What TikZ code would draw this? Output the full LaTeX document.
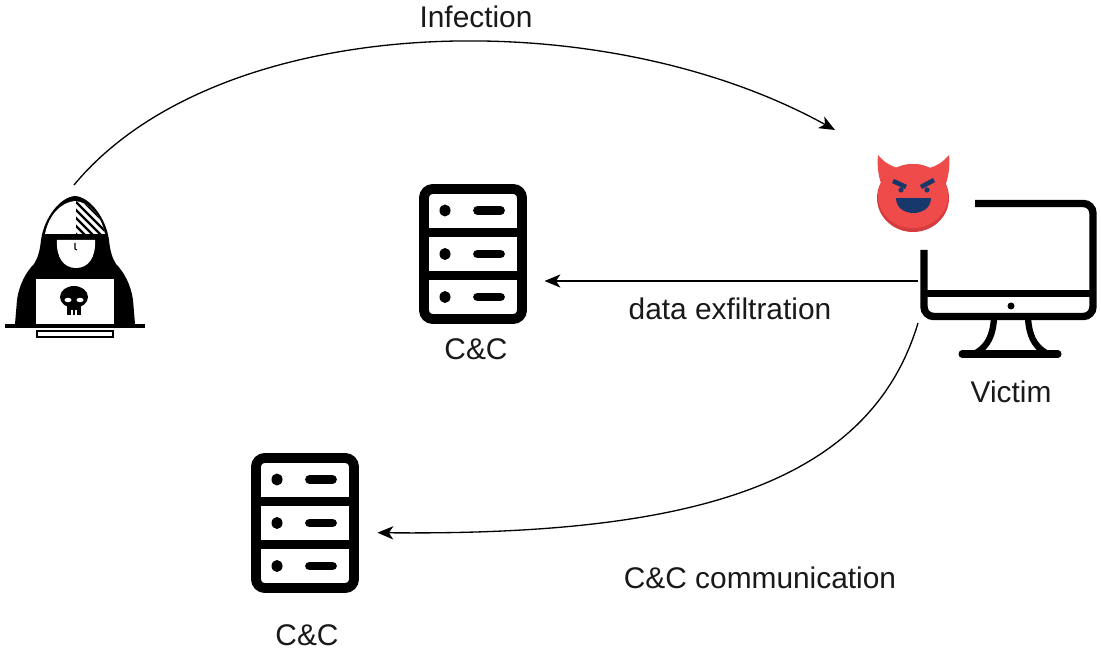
\documentclass[tikz,border=0pt]{standalone}
\usepackage{fontspec}
\setmainfont{Liberation Sans}
\usetikzlibrary{arrows.meta,shapes.geometric}
\definecolor{impred}{HTML}{EF4B4B}
\definecolor{impshade}{HTML}{D63B3D}
\definecolor{impnavy}{HTML}{17386A}

\tikzset{
  lbl/.style={anchor=base, font=\fontsize{17}{20}\selectfont, text=black!90},
  flow/.style={line width=0.75pt, -{Stealth[length=9pt,width=7.5pt,inset=2.5pt]}},
  iconbox/.style={inner sep=0pt, outer sep=0pt},
  rack/.style={line width=5.6pt},
  screen/.style={line width=4.2pt},
  server/.pic={
    \draw[rack, rounded corners=5pt] (-49,-65) rectangle (49,65);
    \draw[rack] (-49,-21.5) -- (49,-21.5) (-49,21.5) -- (49,21.5);
    \foreach \row in {-43.5,0,43} {
      \fill (-28,\row) ellipse (5.5 and 6);
      \draw[line width=5pt, line cap=round] (4.5,\row) -- (27.5,\row);
    }
  }
}

\begin{document}
\begin{tikzpicture}[x=0.02cm, y=-0.02cm]
  \useasboundingbox (0,0) rectangle (1101,651);

  \coordinate (H) at (74,261);
  \coordinate (S1) at (473,254);
  \coordinate (S2) at (305,523);
  \coordinate (V) at (1008,281);
  \coordinate (D) at (913,198);
  \coordinate (tip) at (835,130);

  \coordinate (Inf) at (476,28);
  \coordinate (Exf) at (730,320);
  \coordinate (Com) at (760,588);
  \coordinate (Vl) at (1011,402);
  \coordinate (S1l) at (476,360);
  \coordinate (S2l) at (307,645);

  \node[iconbox, minimum width=2.8cm, minimum height=3.04cm] (hacker) at (H) {};
  \node[iconbox, minimum width=2.16cm, minimum height=2.84cm] (cc1) at (S1) {};
  \node[iconbox, minimum width=2.16cm, minimum height=2.84cm] (cc2) at (S2) {};
  \node[iconbox, minimum width=3.6cm, minimum height=3.32cm] (victim) at (V) {};

  % servers
  \pic at (cc1) {server};
  \pic at (cc2) {server};

  % hooded figure behind the laptop
  \fill (15,324) -- (17,300) .. controls (19,285) and (26,272) .. (34,264)
        .. controls (38,258) and (40,250) .. (41,240)
        .. controls (44,218) and (60,197) .. (75,196)
        .. controls (90,197) and (106,218) .. (109,240)
        .. controls (110,250) and (112,258) .. (116,264)
        .. controls (124,272) and (131,285) .. (133,300) -- (135,324) -- cycle;
  \fill[white] (45,234) .. controls (49,214) and (62,202) .. (75,201)
        .. controls (88,202) and (101,214) .. (105,234) -- cycle;
  \begin{scope}
    \clip (45,234) .. controls (49,214) and (62,202) .. (75,201)
        .. controls (88,202) and (101,214) .. (105,234) -- cycle;
    \clip (76,190) rectangle (112,236);
    \foreach \k in {0,...,6}
      \draw[line width=1.4pt] (68,186+8*\k) -- ++(45,45);
  \end{scope}
  \fill[white] (57,240) -- (95,240) .. controls (96,258) and (88,268) .. (76,268)
        .. controls (64,268) and (56,258) .. (57,240) -- cycle;
  \draw[line width=0.6pt] (75,243) -- (75,249) -- (77,250);
  \draw[line width=1.7pt, fill=white] (35,278) rectangle (115,326);
  \draw[line width=2.8pt] (5,326) -- (145,326);
  \draw[line width=1.4pt, fill=white] (37,331) rectangle (113,337);
  \fill (74,297) ellipse (14 and 11);
  \fill (67,303) rectangle (81,315);
  \fill[white] (68,300) ellipse (3.5 and 2.2);
  \fill[white] (80,300) ellipse (3.5 and 2.2);
  \draw[white, line width=0.8pt] (72,310) -- (72,315) (76,310) -- (76,315);

  % monitor
  \draw[screen, rounded corners=5.5pt] (975,203.5) -- (1093,203.5) -- (1093,316.5)
        -- (924,316.5) -- (924,250);
  \draw[screen] (924,293.5) -- (1093,293.5);
  \fill (1011,306) circle (3.5);
  \draw[line width=3.6pt] (994,318) .. controls (993,335) and (988,346) .. (976,353);
  \draw[line width=3.6pt] (1028,318) .. controls (1029,335) and (1034,346) .. (1046,353);
  \draw[line width=4pt, line cap=round] (962,354) -- (1058,354);

  % devil face
  \fill[impred] (878,155) .. controls (884,162) and (890,166) .. (898,168) -- (882,186) .. controls (878,176) and (877,165) .. (878,155) -- cycle;
  \fill[impred] (949,155) .. controls (943,162) and (937,166) .. (929,168) -- (945,186) .. controls (949,176) and (950,165) .. (949,155) -- cycle;
  \node[ellipse, fill=impshade, minimum width=1.44cm, minimum height=1.36cm, inner sep=0pt] (imp) at (D) {};
  \fill[impred] (913,196) ellipse (35 and 32);
  \draw[impnavy, line width=2.6pt] (893,181) -- (906,187) (934,180) -- (921,187);
  \fill[impnavy] (901,190) circle (2.6) (927,190) circle (2.6);
  \fill[impnavy] (896,198) -- (931,198) .. controls (931,218) and (896,218) .. (896,198) -- cycle;

  \node[lbl] (infection) at (Inf) {Infection};
  \node[lbl] (exfil) at (Exf) {data exfiltration};
  \node[lbl] (comm) at (Com) {C\&C communication};
  \node[lbl] (victimlbl) at (Vl) {Victim};
  \node[lbl] (cc1lbl) at (S1l) {C\&C};
  \node[lbl] (cc2lbl) at (S2l) {C\&C};

  \draw[flow] (hacker.north) .. controls +(145,-175) and +(-235,-130) .. (tip);
  \draw[flow, shorten >=10pt] (victim.west) -- (victim.west -| cc1.east);
  \draw[flow, shorten >=10.5pt] (victim.205) .. controls +(-50,167) and +(321,3) .. (cc2.-10);
\end{tikzpicture}
\end{document}
